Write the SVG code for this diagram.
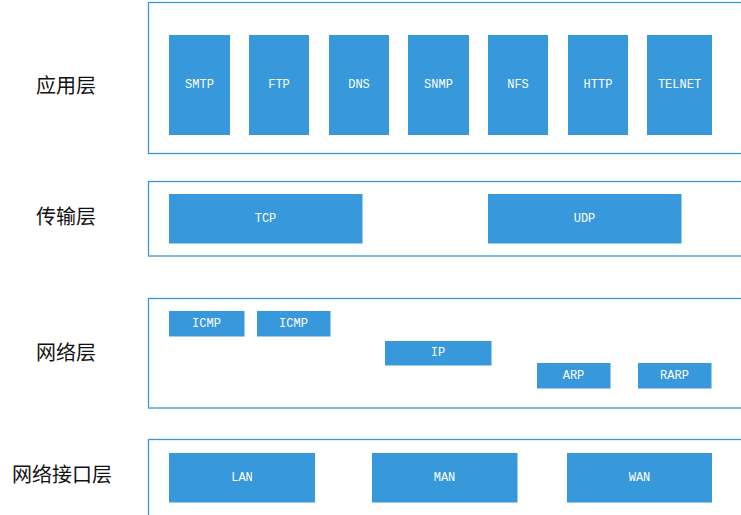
<svg xmlns="http://www.w3.org/2000/svg" width="741" height="515" viewBox="0 0 741 515">
<style>
.layer{fill:#ffffff;stroke:#3a96d8;stroke-width:1.3}
.box{fill:#3799db}
.t{fill:#ffffff;font-family:"Liberation Mono","DejaVu Sans Mono",monospace;font-size:12px;text-anchor:middle;dominant-baseline:central}
.lbl{fill:#111111;font-family:"Noto Sans CJK SC","Noto Sans",sans-serif;font-size:20px;text-anchor:middle;dominant-baseline:central}
</style>
<rect width="741" height="515" fill="#ffffff"/>
<g id="layer-app">
<rect class="layer" x="148.5" y="2.5" width="600" height="151"/>
<text class="lbl" x="66" y="84">应用层</text>
</g>
<g id="layer-transport">
<rect class="layer" x="148.5" y="181.5" width="600" height="74.5"/>
<text class="lbl" x="66" y="215">传输层</text>
</g>
<g id="layer-network">
<rect class="layer" x="148.5" y="298.5" width="600" height="109.5"/>
<text class="lbl" x="66" y="351">网络层</text>
</g>
<g id="layer-link">
<rect class="layer" x="148.5" y="439.5" width="600" height="90"/>
<text class="lbl" x="62" y="473">网络接口层</text>
</g>
<g id="smtp"><rect class="box" x="169" y="35" width="61" height="100"/><text class="t" x="199.5" y="85">SMTP</text></g>
<g id="ftp"><rect class="box" x="249" y="35" width="60" height="100"/><text class="t" x="279" y="85">FTP</text></g>
<g id="dns"><rect class="box" x="329" y="35" width="60" height="100"/><text class="t" x="359" y="85">DNS</text></g>
<g id="snmp"><rect class="box" x="408" y="35" width="61" height="100"/><text class="t" x="438.5" y="85">SNMP</text></g>
<g id="nfs"><rect class="box" x="488" y="35" width="60" height="100"/><text class="t" x="518" y="85">NFS</text></g>
<g id="http"><rect class="box" x="568" y="35" width="60" height="100"/><text class="t" x="598" y="85">HTTP</text></g>
<g id="telnet"><rect class="box" x="647" y="35" width="65" height="100"/><text class="t" x="679.5" y="85">TELNET</text></g>
<g id="tcp"><rect class="box" x="169" y="194" width="193.5" height="49.5"/><text class="t" x="265.5" y="218.5">TCP</text></g>
<g id="udp"><rect class="box" x="488" y="194" width="193.5" height="49.5"/><text class="t" x="584.5" y="218.5">UDP</text></g>
<g id="icmp1"><rect class="box" x="169" y="311" width="75.5" height="25.5"/><text class="t" x="206.5" y="323.5">ICMP</text></g>
<g id="icmp2"><rect class="box" x="257" y="311" width="73.5" height="25.5"/><text class="t" x="293.5" y="323.5">ICMP</text></g>
<g id="ip"><rect class="box" x="385" y="341" width="106.5" height="24.5"/><text class="t" x="438" y="353">IP</text></g>
<g id="arp"><rect class="box" x="537" y="363" width="73.5" height="25.5"/><text class="t" x="573.5" y="375.5">ARP</text></g>
<g id="rarp"><rect class="box" x="638" y="363" width="73.5" height="25.5"/><text class="t" x="674.5" y="375.5">RARP</text></g>
<g id="lan"><rect class="box" x="169" y="453" width="146" height="49.5"/><text class="t" x="242" y="477.5">LAN</text></g>
<g id="man"><rect class="box" x="372" y="453" width="145.5" height="49.5"/><text class="t" x="444.5" y="477.5">MAN</text></g>
<g id="wan"><rect class="box" x="567" y="453" width="145" height="49.5"/><text class="t" x="639.5" y="477.5">WAN</text></g>
<g id="connectors"/>
</svg>
